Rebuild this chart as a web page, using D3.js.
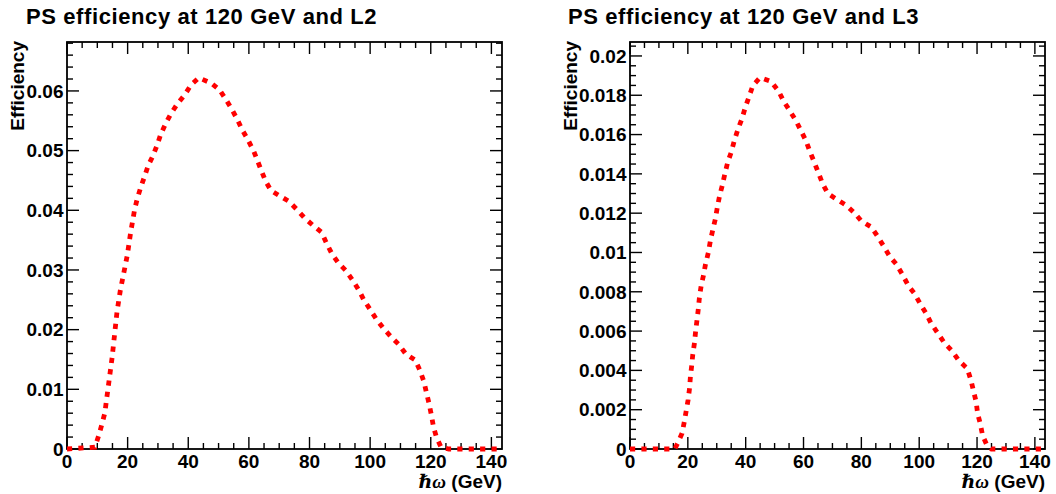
<!DOCTYPE html>
<html>
<head>
<meta charset="utf-8">
<script src="https://cdn.jsdelivr.net/npm/d3@7"></script>
<style>
  html, body { margin: 0; padding: 0; background: #fff; }
  svg { display: block; }
  text { font-family: "Liberation Sans", Arial, Helvetica, sans-serif; font-weight: bold; fill: #000; }
</style>
</head>
<body>
<svg id="chart" width="1056" height="494"></svg>
<script>
// ---------------- data ----------------
const titles = ["PS efficiency at 120 GeV and L2", "PS efficiency at 120 GeV and L3"];
const xTitle = "(GeV)";
const xTitleSymbol = "ℏω";
const yTitle = "Efficiency";

const xTickValues = [0, 20, 40, 60, 80, 100, 120, 140];
const xTickLabels = ["0", "20", "40", "60", "80", "100", "120", "140"];

const yTickValuesL2 = [0, 0.01, 0.02, 0.03, 0.04, 0.05, 0.06];
const yTickLabelsL2 = ["0", "0.01", "0.02", "0.03", "0.04", "0.05", "0.06"];
const yTickValuesL3 = [0, 0.002, 0.004, 0.006, 0.008, 0.01, 0.012, 0.014, 0.016, 0.018, 0.02];
const yTickLabelsL3 = ["0", "0.002", "0.004", "0.006", "0.008", "0.01", "0.012", "0.014", "0.016", "0.018", "0.02"];

// photon energy (GeV) and efficiency, L2
const energyL2 = [0, 9.2, 10.5, 11.6, 12.5, 13.0, 13.5, 14.9, 16.5, 17.6, 19.9, 21.0, 22.3, 23.2, 24.3, 25.6,
  26.8, 28.4, 29.8, 30.9, 32.6, 34.3, 36.5, 38.9, 40.9, 43.5, 47.6, 50.3, 52.5, 54.4, 56.2, 57.8, 59.8,
  61.6, 64.0, 65.5, 67.3, 69.9, 73.2, 75.9, 78.4, 81.3, 84.0, 85.6, 87.4, 89.5, 92.0, 94.2, 96.3, 97.9,
  100.1, 102.0, 104.4, 106.9, 109.5, 111.8, 114.9, 116.4, 117.8, 118.5, 119.4, 120.2, 120.9, 121.8,
  123.4, 126.0, 143.5];
const effL2 = [0, 0.0003, 0.0023, 0.0043, 0.0061, 0.0081, 0.0100, 0.0154, 0.0230, 0.0266, 0.0325, 0.0363,
  0.0401, 0.0420, 0.0438, 0.0457, 0.0475, 0.0492, 0.0510, 0.0527, 0.0546, 0.0562, 0.0579, 0.0594, 0.0610,
  0.0622, 0.0613, 0.0602, 0.0585, 0.0569, 0.0552, 0.0535, 0.0517, 0.0499, 0.0468, 0.0449, 0.0433, 0.0425,
  0.0415, 0.0401, 0.0387, 0.0374, 0.0363, 0.0345, 0.0327, 0.0312, 0.0299, 0.0283, 0.0266, 0.0250, 0.0233,
  0.0218, 0.0202, 0.0188, 0.0175, 0.0159, 0.0149, 0.0132, 0.0112, 0.0096, 0.0077, 0.0057, 0.0037, 0.0021,
  0.0003, 0, 0];

// photon energy (GeV) and efficiency, L3
const energyL3 = [0, 15.5, 16.5, 18.0, 18.8, 19.5, 20.1, 20.6, 20.9, 21.3, 21.7, 22.3, 22.7, 23.2, 23.6, 24.0,
  24.6, 25.5, 26.1, 27.1, 27.8, 28.7, 29.5, 30.2, 31.0, 31.9, 32.8, 33.8, 35.0, 36.1, 37.4, 38.7, 39.9,
  41.1, 42.5, 45.0, 48.8, 51.4, 53.1, 55.3, 57.4, 59.1, 60.8, 62.3, 63.7, 65.3, 66.6, 68.4, 71.5, 74.8,
  77.7, 80.0, 83.4, 85.7, 87.8, 89.8, 92.1, 94.1, 96.3, 98.4, 100.3, 102.4, 104.1, 106.4, 108.7, 111.3,
  113.7, 116.6, 117.9, 118.7, 119.7, 120.2, 121.1, 121.9, 123.4, 125.0, 143.5];
const effL3 = [0, 0, 0.0003, 0.0008, 0.0014, 0.0020, 0.0025, 0.0031, 0.0037, 0.0042, 0.0048, 0.0054, 0.0060,
  0.0066, 0.0071, 0.0077, 0.0083, 0.0089, 0.0094, 0.0100, 0.0106, 0.0112, 0.0117, 0.0123, 0.0129, 0.0134,
  0.0140, 0.0146, 0.0151, 0.0157, 0.0163, 0.0168, 0.0174, 0.0179, 0.0185, 0.0189, 0.0187, 0.0182, 0.0177,
  0.0172, 0.0167, 0.0162, 0.0157, 0.0151, 0.0146, 0.0140, 0.0135, 0.0130, 0.0127, 0.0124, 0.0120, 0.0116,
  0.0113, 0.0108, 0.0103, 0.0098, 0.0094, 0.0089, 0.0083, 0.0079, 0.0074, 0.0069, 0.0064, 0.0059, 0.0054,
  0.0050, 0.0045, 0.0041, 0.0035, 0.0030, 0.0024, 0.0018, 0.0013, 0.0007, 0.0002, 0, 0];

// ---------------- drawing ----------------
const svg = d3.select("#chart");

const panels = [
  { title: titles[0], x: energyL2, y: effL2, yTicks: yTickValuesL2, yLabels: yTickLabelsL2,
    left: 67, right: 502, top: 42, bottom: 449, xMax: 143.5, yMax: 0.0682, yMinor: 0.002,
    titleX: 26, yTitleX: 24 },
  { title: titles[1], x: energyL3, y: effL3, yTicks: yTickValuesL3, yLabels: yTickLabelsL3,
    left: 630, right: 1045, top: 42, bottom: 449, xMax: 143.5, yMax: 0.02071, yMinor: 0.0005,
    titleX: 568, yTitleX: 577 }
];

panels.forEach((p, idx) => {
  const g = svg.append("g");
  const xs = d3.scaleLinear().domain([0, p.xMax]).range([p.left, p.right]);
  const ys = d3.scaleLinear().domain([0, p.yMax]).range([p.bottom, p.top]);
  const W = p.right - p.left, H = p.bottom - p.top;
  const majorLen = 12, minorLen = 6;

  // clip (let the line sit on the axes like the original)
  const clipId = "clip" + idx;
  svg.append("defs").append("clipPath").attr("id", clipId)
    .append("rect").attr("x", p.left - 3).attr("y", p.top).attr("width", W + 3).attr("height", H + 4);

  const pts = p.x.map((v, i) => [v, p.y[i]]);
  const line = d3.line().x(d => xs(d[0])).y(d => ys(d[1]));

  // ticks
  const tickG = g.append("g").attr("stroke", "#000").attr("stroke-width", 1.4);
  const xMinor = d3.range(0, p.xMax + 1e-9, 5);
  xMinor.forEach(v => {
    const isMajor = Math.abs(v % 20) < 1e-9;
    const len = isMajor ? majorLen : minorLen;
    const x = xs(v);
    tickG.append("line").attr("x1", x).attr("x2", x).attr("y1", p.bottom).attr("y2", p.bottom - len);
    tickG.append("line").attr("x1", x).attr("x2", x).attr("y1", p.top).attr("y2", p.top + len);
  });
  const nMinor = Math.floor(p.yMax / p.yMinor + 1e-6);
  d3.range(0, nMinor + 1).forEach(k => {
    const v = k * p.yMinor;
    const isMajor = p.yTicks.some(t => Math.abs(t - v) < p.yMinor * 1e-3);
    const len = isMajor ? majorLen : minorLen;
    const y = ys(v);
    tickG.append("line").attr("x1", p.left).attr("x2", p.left + len).attr("y1", y).attr("y2", y);
    tickG.append("line").attr("x1", p.right).attr("x2", p.right - len).attr("y1", y).attr("y2", y);
  });

  // frame
  g.append("rect").attr("x", p.left).attr("y", p.top).attr("width", W).attr("height", H)
    .attr("fill", "none").attr("stroke", "#000").attr("stroke-width", 1.8);

  // curve (dotted, thick red like the original)
  g.append("path").datum(pts)
    .attr("clip-path", `url(#${clipId})`)
    .attr("d", line)
    .attr("fill", "none")
    .attr("stroke", "#ff0000")
    .attr("stroke-width", 4.8)
    .attr("stroke-dasharray", "5.2,6.2")
    .attr("stroke-linecap", "butt")
    .attr("stroke-linejoin", "miter");

  // x tick labels
  xTickValues.forEach((v, i) => {
    g.append("text").attr("x", xs(v)).attr("y", 467.5)
      .attr("text-anchor", "middle").attr("font-size", 19)
      .text(xTickLabels[i]);
  });
  // y tick labels
  p.yTicks.forEach((v, i) => {
    g.append("text").attr("x", p.left - 3.5).attr("y", ys(v) + 6.8)
      .attr("text-anchor", "end").attr("font-size", 19)
      .text(p.yLabels[i]);
  });

  // x title
  const xt = g.append("text").attr("x", p.right).attr("y", 488)
    .attr("text-anchor", "end").attr("font-size", 19);
  xt.append("tspan").attr("font-family", "'Liberation Serif', 'DejaVu Serif', serif")
    .attr("font-style", "italic").attr("font-weight", "bold").text(xTitleSymbol);
  xt.append("tspan").text(" " + xTitle);

  // y title
  g.append("text")
    .attr("transform", `translate(${p.yTitleX},${p.top - 1}) rotate(-90)`)
    .attr("text-anchor", "end").attr("font-size", 19)
    .text(yTitle);

  // plot title
  g.append("text").attr("x", p.titleX).attr("y", 24)
    .attr("font-size", 22)
    .attr("letter-spacing", 0.6)
    .text(p.title);
});
</script>
</body>
</html>
